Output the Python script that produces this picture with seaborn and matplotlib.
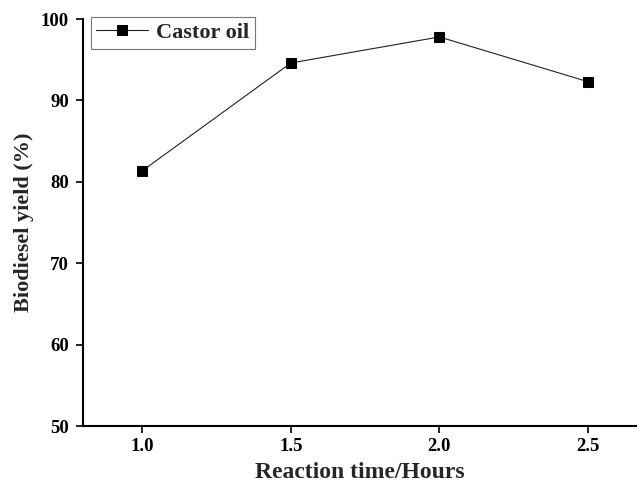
import matplotlib
matplotlib.use("Agg")
import matplotlib.pyplot as plt
import seaborn as sns
import pandas as pd

time_hours = [1.0, 1.5, 2.0, 2.5]
yield_pct = [81.35, 94.6, 97.8, 92.3]
series_name = "Castor oil"
x_ticks = [1.0, 1.5, 2.0, 2.5]
y_ticks = [50, 60, 70, 80, 90, 100]

sns.set_style("ticks")
plt.rcParams['font.family'] = ['Liberation Serif', 'DejaVu Serif']
plt.rcParams['font.weight'] = 'bold'

df = pd.DataFrame({"time": time_hours, "yield": yield_pct, "series": series_name})

fig = plt.figure(figsize=(6.37, 4.88), dpi=100)
ax = fig.add_axes([0.130, 0.127, 0.870, 0.834])

sns.lineplot(data=df, x="time", y="yield", hue="series", palette=["#222222"],
             marker="s", markersize=7, markerfacecolor="black", markeredgecolor="black",
             linewidth=0.8, ax=ax)

ax.set_xlim(0.8, 2.665)
ax.set_ylim(50, 100)
ax.set_xticks(x_ticks)
ax.set_xticklabels([f"{v:.1f}" for v in x_ticks])
ax.set_yticks(y_ticks)
ax.tick_params(axis='both', direction='out', length=5, width=1.2, labelsize=13.5, colors='black')
ax.tick_params(axis='y', pad=5)
for lab in ax.get_xticklabels() + ax.get_yticklabels():
    lab.set_fontweight('bold')

ax.set_xlabel("Reaction time/Hours", fontsize=17, fontweight='bold', labelpad=5)
ax.set_ylabel("Biodiesel yield (%)", fontsize=16, fontweight='bold', labelpad=5)

for side in ['top', 'right']:
    ax.spines[side].set_visible(False)
for side in ['left', 'bottom']:
    ax.spines[side].set_linewidth(1.5)
    ax.spines[side].set_color('black')

leg = ax.legend(loc='upper left', bbox_to_anchor=(0.0145, 1.005), borderaxespad=0,
                frameon=True, fancybox=False,
                prop={'family': 'Liberation Serif', 'weight': 'bold', 'size': 16},
                handlelength=2.3, borderpad=0.25, handletextpad=0.4)
leg.get_frame().set_edgecolor('#555555')
leg.get_frame().set_linewidth(0.8)

fig.savefig("out.png", dpi=100)
